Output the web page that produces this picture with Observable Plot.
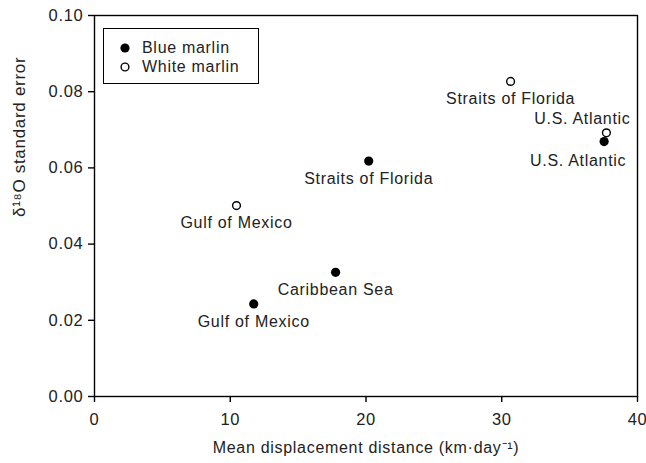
<!DOCTYPE html>
<html>
<head>
<meta charset="utf-8">
<script src="https://cdn.jsdelivr.net/npm/d3@7"></script>
<script src="https://cdn.jsdelivr.net/npm/@observablehq/plot@0.6"></script>
<style>
  html, body { margin: 0; padding: 0; background: #fff; }
  #wrap { position: relative; width: 646px; height: 463px; font-family: "Liberation Sans", Arial, sans-serif; }
  #wrap svg text { letter-spacing: 0.7px; }
  #legend { position: absolute; left: 103px; top: 28px; width: 156px; height: 56px; box-sizing: border-box;
            border: 1.5px solid #000; background: #fff; }
  #legend .row { position: absolute; left: 0; height: 20px; display: flex; align-items: center; font-size: 16px; letter-spacing: 0.7px; color: #222; }
  #legend svg { margin-left: 15px; margin-right: 11px; }
</style>
</head>
<body>
<div id="wrap"></div>
<script>
// Blue marlin
const blueRegions = ["Gulf of Mexico", "Caribbean Sea", "Straits of Florida", "U.S. Atlantic"];
const blueDistance = [11.73, 17.76, 20.2, 37.54];
const blueSE = [0.0243, 0.0326, 0.0618, 0.0669];
// White marlin
const whiteRegions = ["Gulf of Mexico", "Straits of Florida", "U.S. Atlantic"];
const whiteDistance = [10.46, 30.65, 37.71];
const whiteSE = [0.0501, 0.0827, 0.0692];
// Axis ticks and titles
const xTicks = [0, 10, 20, 30, 40];
const yTicks = [0, 0.02, 0.04, 0.06, 0.08, 0.10];
const seriesNames = ["Blue marlin", "White marlin"];
const xTitle = "Mean displacement distance (km\u00B7day\u207B\u00B9)";
const yTitle = "\u03B4\u00B9\u2078O standard error";

const blue = blueRegions.map((r, i) => ({species: seriesNames[0], region: r, x: blueDistance[i], y: blueSE[i]}));
const white = whiteRegions.map((r, i) => ({species: seriesNames[1], region: r, x: whiteDistance[i], y: whiteSE[i]}));

const isUSA = d => d.region === "U.S. Atlantic";
const font = "Liberation Sans, Arial, sans-serif";
const textStyle = {fontSize: 16, fill: "#222", fontFamily: font};

const chart = Plot.plot({
  width: 646,
  height: 463,
  marginLeft: 94,
  marginRight: 9,
  marginTop: 15,
  marginBottom: 67,
  style: {fontFamily: font, fontSize: "16px", color: "#222", background: "#fff"},
  x: {domain: [0, 40]},
  y: {domain: [0, 0.10]},
  marks: [
    Plot.frame({stroke: "#000", strokeWidth: 1.4}),
    Plot.axisX({ticks: xTicks, tickSize: 6, tickPadding: 11, tickFormat: d3.format("d"), stroke: "#000", strokeWidth: 1.4,
      fontSize: 16.5, fill: "#222", label: null}),
    Plot.axisY({ticks: yTicks, tickSize: 6, tickPadding: 5, tickFormat: d3.format(".2f"), stroke: "#000", strokeWidth: 1.4,
      fontSize: 16.5, fill: "#222", label: null}),
    Plot.text([xTitle], {text: d => d, frameAnchor: "bottom", dy: 56, ...textStyle}),
    Plot.text([yTitle], {text: d => d, frameAnchor: "left", rotate: -90, dx: -75, dy: 11, ...textStyle, fontSize: 17}),
    Plot.dot(blue, {x: "x", y: "y", r: 4.6, fill: "#000", stroke: "none"}),
    Plot.dot(white, {x: "x", y: "y", r: 3.9, fill: "#fff", stroke: "#000", strokeWidth: 1.4}),
    Plot.text(blue, {filter: d => !isUSA(d), x: "x", y: "y", text: "region", dy: 18, ...textStyle}),
    Plot.text(white, {filter: d => !isUSA(d), x: "x", y: "y", text: "region", dy: 17, ...textStyle}),
    Plot.text(blue, {filter: isUSA, x: "x", y: "y", text: "region", dx: -26, dy: 19, ...textStyle}),
    Plot.text(white, {filter: isUSA, x: "x", y: "y", text: "region", dx: -24, dy: -14, ...textStyle})
  ]
});

const wrap = document.getElementById("wrap");
wrap.appendChild(chart);

// Legend
const legend = document.createElement("div");
legend.id = "legend";
const legendItems = [
  {name: seriesNames[0], fill: "#000", r: 4.6, stroke: "none"},
  {name: seriesNames[1], fill: "#fff", r: 3.9, stroke: "#000"}
];
legendItems.forEach((item, i) => {
  const row = document.createElement("div");
  row.className = "row";
  row.style.top = (9 + i * 19) + "px";
  row.innerHTML = `<svg width="12" height="12" viewBox="-6 -6 12 12"><circle r="${item.r}" fill="${item.fill}" stroke="${item.stroke}" stroke-width="1.4"/></svg><span>${item.name}</span>`;
  legend.appendChild(row);
});
wrap.appendChild(legend);
</script>
</body>
</html>
